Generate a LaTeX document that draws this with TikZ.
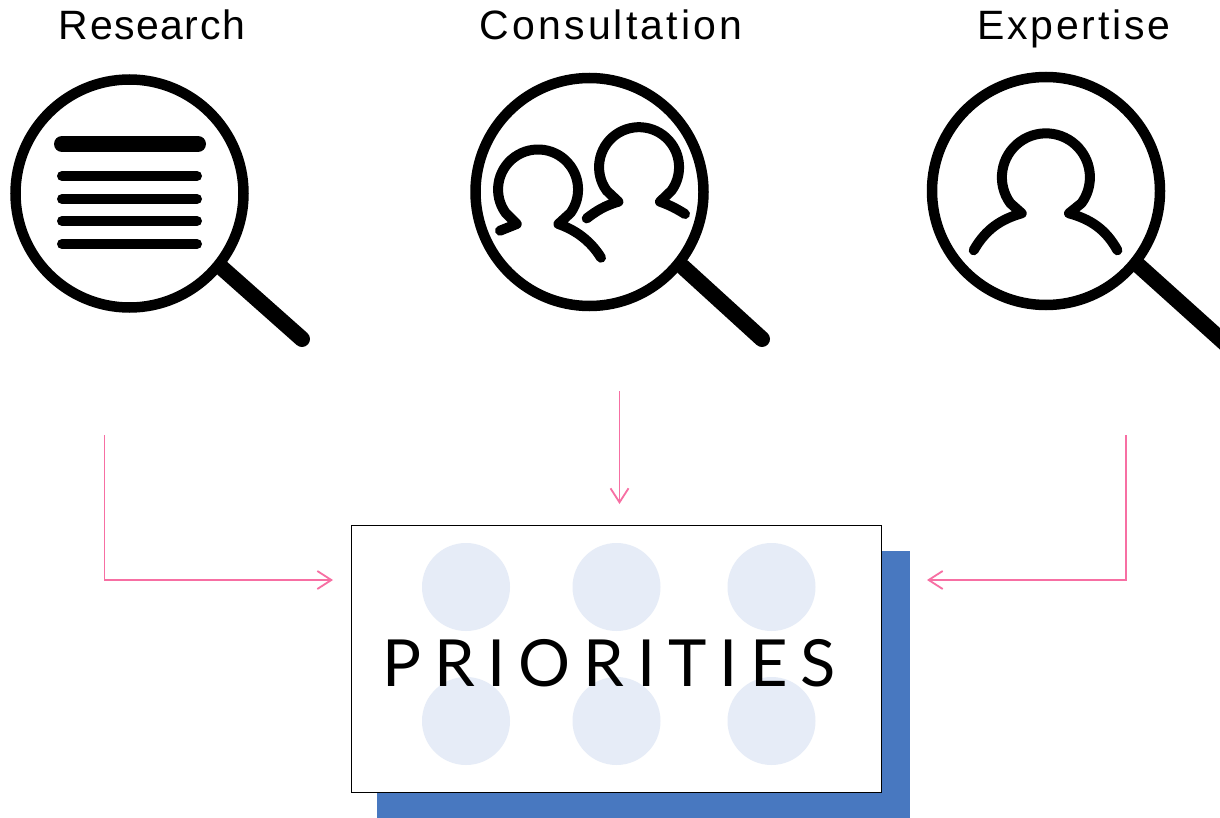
\documentclass[tikz,border=0pt]{standalone}
\usepackage{fontspec}
\setmainfont{Liberation Sans}
\newfontfamily\titlefonta[LetterSpace=3.7]{Liberation Sans}
\newfontfamily\titlefontb[LetterSpace=7.6]{Liberation Sans}
\newfontfamily\titlefontc[LetterSpace=6.8]{Liberation Sans}
\newfontfamily\prifont[LetterSpace=19.7]{Lato}
\usetikzlibrary{arrows.meta}
\definecolor{pinkline}{HTML}{F76FA3}
\definecolor{blueshadow}{HTML}{4878C0}
\definecolor{paledot}{HTML}{E6ECF7}
\tikzset{
  x=1pt,y=1pt,
  ring/.style={draw=black,line width=10.5pt,fill=white},
  handle/.style={draw=black,line width=16pt,line cap=round},
  bar/.style={draw=black,line width=10pt,line cap=round},
  thickbar/.style={draw=black,line width=16pt,line cap=round},
  figure/.style={draw=black,line width=10pt,line cap=round,line join=round},
  dot/.style={circle,fill=paledot,minimum size=88pt,inner sep=0pt},
  flow/.style={draw=pinkline,line width=1.8pt,-{Straight Barb[length=14pt,width=18pt,line width=1.8pt]}},
  head/.style={inner sep=0pt,anchor=base},
}
\begin{document}
\begin{tikzpicture}
\useasboundingbox (0,0) rectangle (1220,-818);
\fill[white] (0,0) rectangle (1220,-818);
% titles
\node[head,font=\titlefonta\fontsize{41}{46}\selectfont] (t1) at (152,-40) {Research};
\node[head,font=\titlefontb\fontsize{41}{46}\selectfont] (t2) at (611,-40) {Consultation};
\node[head,font=\titlefontc\fontsize{41}{46}\selectfont] (t3) at (1074,-40) {Expertise};
% handles
\draw[handle] (222,-268) -- (302,-339);
\draw[handle] (683,-267) -- (762,-339);
\draw[handle] (1138,-265) -- (1228,-346);
% lenses
\draw[ring] (129.5,-193.5) circle[radius=114];
\draw[ring] (589.5,-192) circle[radius=114];
\draw[ring] (1046,-191) circle[radius=114];
% text lines
\draw[thickbar] (62,-144) -- (198,-144);
\foreach \yy in {176,199,221,244} \draw[bar] (62,-\yy) -- (197,-\yy);
% single person
\begin{scope}[shift={(1045.7,-177.3)}]
\draw[figure] (-72,-73) .. controls (-60,-52) and (-45,-42) .. (-24,-36) -- (-35.4,-25.9)
  arc[start angle=216,end angle=-36,radius=44] -- (23.3,-36) .. controls (45,-42) and (60,-52) .. (71.7,-73);
\end{scope}
% back person
\begin{scope}[shift={(638.7,-166.7)}]
\draw[figure] (-52,-51.7) .. controls (-42,-44) and (-34,-39) .. (-20.3,-35) -- (-32,-24)
  arc[start angle=216,end angle=-36,radius=40] -- (21.3,-35) .. controls (30,-38) and (38,-42) .. (46.3,-47.3);
\end{scope}
% front person
\begin{scope}[shift={(537.7,-189)}]
\draw[figure] (-37.7,-41.7) -- (-21,-35) -- (-32,-24)
  arc[start angle=216,end angle=-36,radius=40] -- (20.7,-35) .. controls (38,-41) and (53,-52) .. (63.3,-68.7);
\end{scope}
% priorities card
\fill[blueshadow] (377,-551) rectangle (910,-818);
\node[draw=black,line width=1pt,fill=white,minimum width=530pt,minimum height=266.5pt,inner sep=0pt] (card) at (616.5,-658.75) {};
\node[dot] (d1) at (466,-587) {};
\node[dot] (d2) at (616.5,-587) {};
\node[dot] (d3) at (771.5,-587) {};
\node[dot] (d4) at (466,-721) {};
\node[dot] (d5) at (616.5,-721) {};
\node[dot] (d6) at (771.5,-721) {};
\node[inner sep=0pt,anchor=base,font=\prifont\fontsize{65}{70}\selectfont] (lab) at (609,-686) {PRIORITIES};
% connectors
\coordinate (s1) at (104.5,-435);
\coordinate (e1) at (333,-580);
\coordinate (s2) at (619.5,-391);
\coordinate (e2) at (619.5,-504);
\coordinate (s3) at (1126,-435);
\coordinate (e3) at (927,-580);
\draw[flow] (s1) |- (e1);
\draw[flow] (s2) -- (e2);
\draw[flow] (s3) |- (e3);
\end{tikzpicture}
\end{document}
